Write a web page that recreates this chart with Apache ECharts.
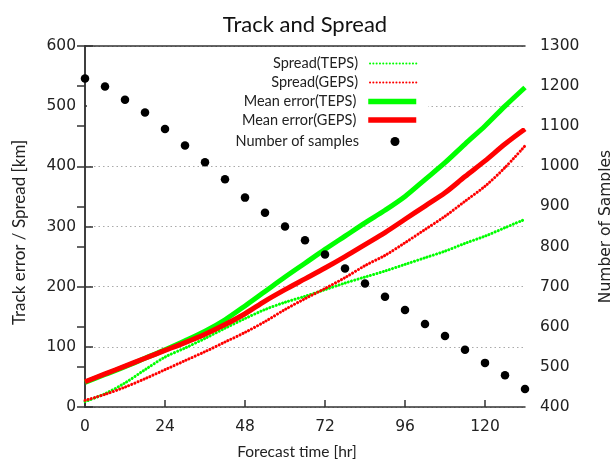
<!DOCTYPE html>
<html>
<head>
<meta charset="utf-8">
<script src="https://cdn.jsdelivr.net/npm/echarts@6/dist/echarts.min.js"></script>
<style>
html,body{margin:0;padding:0;background:#fff;}
#chart{width:610px;height:463px;}
</style>
</head>
<body>
<div id="chart"></div>
<script>
// Forecast hours
const hours = [0, 6, 12, 18, 24, 30, 36, 42, 48, 54, 60, 66, 72, 78, 84, 90, 96, 102, 108, 114, 120, 126, 132];
// Left axis series [km]
const spreadTEPS = [9, 22, 40, 62, 83, 98, 114, 131, 147, 162, 174, 184, 195, 206, 216, 226, 237, 248, 259, 272, 284, 298, 312];
const spreadGEPS = [11, 21, 33, 47, 62, 77, 92, 108, 124, 142, 162, 180, 197, 215, 235, 252, 273, 295, 317, 342, 367, 398, 434];
const meanTEPS = [41, 54, 67, 81, 95, 110, 126, 145, 168, 192, 216, 239, 262, 284, 306, 327, 350, 378, 406, 437, 467, 500, 531];
const meanGEPS = [42, 55, 68, 81, 94, 107, 121, 137, 155, 176, 195, 213, 231, 250, 270, 290, 312, 334, 356, 383, 409, 437, 462];
// Right axis series
const samples = [1219, 1199, 1166, 1134, 1093, 1052, 1010, 968, 922, 884, 850, 816, 780, 745, 708, 675, 642, 607, 577, 543, 510, 479, 445];

const seriesNames = ['Spread(TEPS)', 'Spread(GEPS)', 'Mean error(TEPS)', 'Mean error(GEPS)', 'Number of samples'];
const titleText = 'Track and Spread';
const xName = 'Forecast time [hr]';
const yLeftName = 'Track error / Spread [km]';
const yRightName = 'Number of Samples';

const pair = arr => hours.map((h, i) => [h, arr[i]]);

const GREEN = '#00ff00';
const RED = '#ff0000';
const AXIS = '#333333';
const sansUI = 'Lato, "Open Sans", sans-serif';
const sansTick = '"DejaVu Sans", sans-serif';

const legendCenters = [63, 82, 101, 119.5, 138.5];
const legends = seriesNames.map((n, i) => {
  const isDot = i === 4;
  const isSolid = i === 2 || i === 3;
  const lg = {
    data: [n],
    orient: 'vertical',
    align: 'right',
    right: isDot ? 210.5 : 191,
    top: legendCenters[i] - (isDot ? 4.5 : 7),
    padding: 0,
    itemWidth: isDot ? 9 : 48,
    itemHeight: isDot ? 9 : 14,
    itemStyle: isDot ? {color: '#000', opacity: 1} : {opacity: 0},
    selectedMode: false,
    formatter: name => '{t|' + name + '}',
    textStyle: {
      fontFamily: sansUI, fontSize: 14.5, color: '#222',
      rich: {t: {fontFamily: sansUI, fontSize: 14.5, color: '#222', padding: [0, isDot ? 26.5 : 7, 0, 0]}}
    }
  };
  if (isDot) lg.icon = 'circle';
  if (isSolid) lg.lineStyle = {width: 5.5};
  return lg;
});

const chart = echarts.init(document.getElementById('chart'), null, {renderer: 'canvas'});
chart.setOption({
  animation: false,
  backgroundColor: '#ffffff',
  title: {
    text: titleText,
    left: 'center',
    top: 9,
    textStyle: {fontFamily: sansUI, fontWeight: 'normal', fontSize: 22, color: '#111'}
  },
  legend: legends,
  grid: {left: 85, right: 85, top: 46, bottom: 56, containLabel: false, outerBoundsMode: 'none'},
  graphic: [{
    type: 'rect', z: 1,
    shape: {x: 87, y: 103, width: 341, height: 7},
    style: {fill: '#ffffff'}
  }],
  xAxis: [{
    type: 'value',
    min: 0, max: 132, interval: 24,
    name: xName,
    nameLocation: 'middle',
    nameGap: 37,
    nameTextStyle: {fontFamily: sansUI, fontSize: 15.5, color: '#222', padding: [0, 16, 0, 0]},
    axisLine: {show: true, lineStyle: {color: AXIS, width: 1.5}},
    axisTick: {show: true, inside: true, length: 7, lineStyle: {color: AXIS, width: 1.5}},
    axisLabel: {fontFamily: sansTick, fontSize: 15.5, color: '#222', margin: 12, showMaxLabel: false},
    splitLine: {show: false}
  }, {
    type: 'value',
    position: 'top',
    min: 0, max: 132,
    axisLine: {show: true, lineStyle: {color: AXIS, width: 1.5}},
    axisTick: {show: false},
    axisLabel: {show: false},
    splitLine: {show: false}
  }],
  yAxis: [{
    type: 'value',
    min: 0, max: 600, interval: 100,
    position: 'left',
    name: yLeftName,
    nameLocation: 'middle',
    nameRotate: 90,
    nameGap: 57,
    nameTextStyle: {fontFamily: sansUI, fontSize: 17, color: '#222', padding: [0, 12, 0, 0]},
    axisLine: {show: true, lineStyle: {color: AXIS, width: 1.5}},
    axisTick: {show: true, inside: true, length: 8, lineStyle: {color: AXIS, width: 1.5}},
    axisLabel: {fontFamily: sansTick, fontSize: 15.5, color: '#222', margin: 9},
    splitLine: {show: true, lineStyle: {color: '#aaaaaa', width: 1, type: [1.5, 3]}}
  }, {
    type: 'value',
    min: 400, max: 1300, interval: 100,
    position: 'right',
    name: yRightName,
    nameLocation: 'middle',
    nameRotate: 90,
    nameGap: 73,
    nameTextStyle: {fontFamily: sansTick, fontSize: 15.5, color: '#222'},
    axisLine: {show: true, lineStyle: {color: AXIS, width: 1.5}},
    axisTick: {show: true, inside: true, length: 8, lineStyle: {color: AXIS, width: 1.5}},
    axisLabel: {fontFamily: sansTick, fontSize: 15.5, color: '#222', margin: 15, formatter: v => String(v)},
    splitLine: {show: false}
  }],
  series: [{
    name: seriesNames[0], type: 'line', yAxisIndex: 0, symbol: 'none', smooth: 0.3,
    data: pair(spreadTEPS), z: 2,
    lineStyle: {color: GREEN, width: 3, type: [0.1, 3.2], cap: 'round'},
    itemStyle: {color: GREEN}
  }, {
    name: seriesNames[1], type: 'line', yAxisIndex: 0, symbol: 'none', smooth: 0.3,
    data: pair(spreadGEPS), z: 2,
    lineStyle: {color: RED, width: 3, type: [0.1, 3.2], cap: 'round'},
    itemStyle: {color: RED}
  }, {
    name: seriesNames[2], type: 'line', yAxisIndex: 0, symbol: 'none', smooth: 0.3,
    data: pair(meanTEPS), z: 3,
    lineStyle: {color: GREEN, width: 5},
    itemStyle: {color: GREEN}
  }, {
    name: seriesNames[3], type: 'line', yAxisIndex: 0, symbol: 'none', smooth: 0.3,
    data: pair(meanGEPS), z: 3,
    lineStyle: {color: RED, width: 5},
    itemStyle: {color: RED}
  }, {
    name: seriesNames[4], type: 'scatter', yAxisIndex: 1,
    symbol: 'circle', symbolSize: 8.5,
    data: pair(samples), z: 4,
    itemStyle: {color: '#000000', opacity: 1}
  }]
});
</script>
</body>
</html>
